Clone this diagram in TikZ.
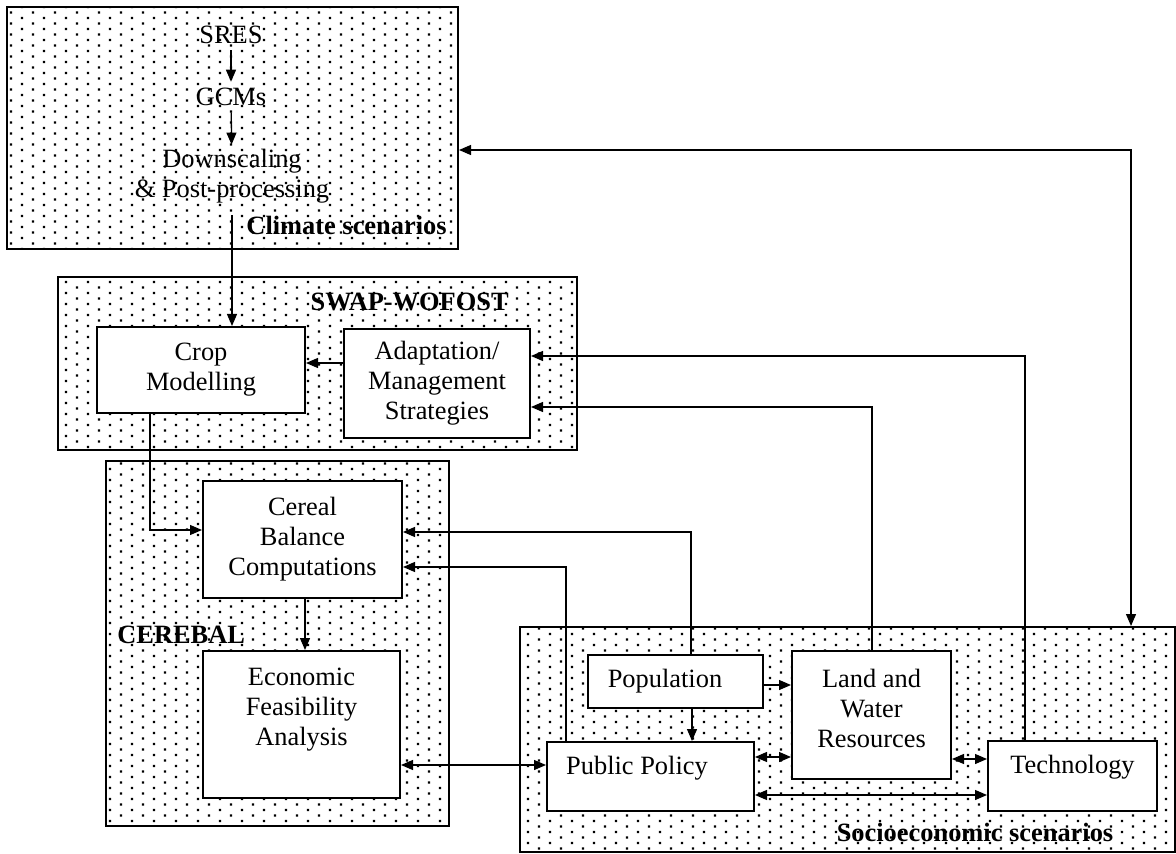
\documentclass[tikz,border=0pt]{standalone}
\usepackage{fontspec}
\setmainfont{Liberation Serif}
\usetikzlibrary{arrows.meta,patterns,fit}
\pgfdeclarepatternformonly{sparsedots}{\pgfpoint{-1pt}{-1pt}}{\pgfpoint{10pt}{4.5pt}}{\pgfpoint{11pt}{5.5pt}}{%
  \pgfpathrectangle{\pgfpoint{-0.6pt}{-0.6pt}}{\pgfpoint{1.2pt}{1.2pt}}%
  \pgfpathrectangle{\pgfpoint{4.9pt}{2.15pt}}{\pgfpoint{1.2pt}{1.2pt}}%
  \pgfusepath{fill}}
\tikzset{
  area/.style={draw,line width=1pt,pattern=sparsedots,inner sep=0pt},
  box/.style={draw,line width=1pt,fill=white,align=center,inner sep=2pt},
  head/.style={font=\fontsize{13.2}{15}\selectfont\bfseries,inner sep=1pt},
  arr/.style={->,line width=0.65pt},
  arrb/.style={<->,line width=0.65pt},
}
\begin{document}
\begin{tikzpicture}[x=0.5pt,y=-0.5pt,>={Triangle[length=6pt,width=5pt]},font=\fontsize{13.2}{15}\selectfont]
\useasboundingbox (0,0) rectangle (1176,854);
% scenario areas
\node[area,fit={(7,7) (458,249)}] (clim) {};
\node[area,fit={(58,277) (577,450)}] (swap) {};
\node[area,fit={(106,461) (449,826)}] (cereb) {};
\node[area,fit={(520,627) (1175,852)}] (socio) {};
\node[head,anchor=east] (climlbl) at (449,225) {Climate scenarios};
\node[head,anchor=east] (swaplbl) at (511,302) {SWAP-WOFOST};
\node[head,anchor=west] (cereblbl) at (115,635) {CEREBAL};
\node[head] (sociolbl) at (975,832) {Socioeconomic scenarios};
% climate chain
\node[inner sep=3pt] (sres) at (231,35) {SRES};
\node[inner sep=3pt] (gcm) at (231,97) {GCMs};
\node[align=center,inner sep=2pt] (down) at (232,176) {Downscaling\\\& Post-processing};
\coordinate (cs) at (232,215);
% boxes
\node[box,minimum width=104pt,minimum height=43pt] (crop) at (201,370) {Crop\\Modelling};
\node[box,minimum width=93pt,minimum height=54.5pt] (adapt) at (437,383.5) {Adaptation/\\Management\\Strategies};
\node[box,minimum width=99.5pt,minimum height=58.5pt] (cereal) at (302.5,539.5) {Cereal\\Balance\\Computations};
\node[box,minimum width=98.5pt,minimum height=73.5pt,
  label={[align=center,yshift=7.25pt]center:Economic\\Feasibility\\Analysis}] (econ) at (301.5,724.5) {};
\node[box,minimum width=87.5pt,minimum height=26.5pt,
  label={[xshift=-5.25pt]center:Population}] (pop) at (675.5,681.5) {};
\node[box,minimum width=103.5pt,minimum height=34.5pt,
  label={[xshift=-6.75pt,yshift=4.25pt]center:Public Policy}] (pp) at (650.5,776.5) {};
\node[box,minimum width=79.5pt,minimum height=64pt,
  label={[align=center,yshift=3.5pt]center:Land and\\Water\\Resources}] (land) at (871.5,715) {};
\node[box,minimum width=84.5pt,minimum height=35pt,
  label={[yshift=4.5pt]center:Technology}] (tech) at (1072.5,776) {};
% connectors
\draw[arr] (sres) -- (gcm);
\draw[arr] (gcm) -- (down);
\draw[arr] (cs) -- (cs |- crop.north);
\draw[arr] (adapt.west |- 0,363) -- (crop.east |- 0,363);
\draw[arr] (crop.south -| 150,0) |- (cereal.west |- 0,530);
\draw[arr] (cereal.south -| 305,0) -- (econ.north -| 305,0);
\draw[arr] (pop.north -| 691,0) |- (cereal.east |- 0,532);
\draw[arr] (pp.north -| 566,0) |- (cereal.east |- 0,567);
\draw[arrb] (econ.east |- 0,765) -- (pp.west |- 0,765);
\draw[arr] (pop.east |- 0,685) -- (land.west |- 0,685);
\draw[arr] (pop.south -| 692,0) -- (pp.north -| 692,0);
\draw[arrb] (pp.east |- 0,757) -- (land.west |- 0,757);
\draw[arrb] (land.east |- 0,759) -- (tech.west |- 0,759);
\draw[arrb] (pp.east |- 0,795) -- (tech.west |- 0,795);
\draw[arr] (tech.north -| 1025,0) |- (adapt.east |- 0,356);
\draw[arr] (land.north -| 872,0) |- (adapt.east |- 0,407);
\draw[arrb] (clim.east |- 0,150) -| (socio.north -| 1131,0);
\end{tikzpicture}
\end{document}
